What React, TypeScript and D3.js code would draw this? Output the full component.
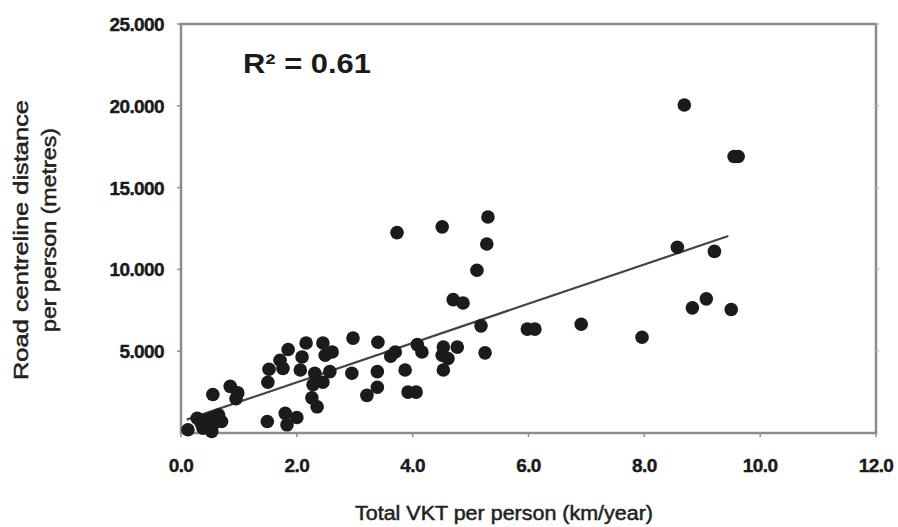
import React, { useEffect, useRef } from "react";
import * as d3 from "d3";

// values: VKT (km/year, thousands) vs road distance (metres)
const vktKm = [
  0.12, 0.28, 0.35, 0.45, 0.55, 0.65, 0.38, 0.53, 0.55, 0.7,
  0.55, 0.85, 0.98, 0.95, 1.49, 1.8, 2.0, 1.83,
  1.5, 1.52, 1.71, 1.76, 1.85, 2.09, 2.06, 2.16, 2.31, 2.28, 2.26, 2.35,
  2.45, 2.49, 2.61, 2.57, 2.45, 2.95, 2.97, 3.39, 3.4, 3.39, 3.21,
  3.7, 3.62, 3.87, 3.92, 4.06, 4.08, 4.16, 4.53, 4.77, 4.51, 4.61, 4.53,
  5.25, 5.18, 4.7, 4.87, 5.11, 5.28, 5.3, 4.51, 3.73,
  5.98, 6.11, 6.91, 7.96, 8.57, 9.21, 8.69, 9.55, 9.62, 8.83, 9.07, 9.5,
];
const roadMetres = [
  200, 900, 600, 800, 950, 1100, 300, 100, 500, 700,
  2350, 2850, 2450, 2100, 700, 1200, 950, 500,
  3100, 3900, 4450, 3950, 5100, 4650, 3850, 5500, 3650, 2950, 2150, 1600,
  5500, 4750, 4950, 3750, 3100, 3650, 5800, 3750, 5550, 2800, 2300,
  4950, 4700, 3850, 2500, 2500, 5400, 4950, 5250, 5250, 4750, 4550, 3850,
  4900, 6550, 8150, 7950, 9950, 11550, 13200, 12600, 12250,
  6350, 6350, 6650, 5850, 11350, 11100, 20050, 16900, 16900, 7650, 8200, 7550,
];

// fitted line as drawn
const trendSlope = 1200;
const trendIntercept = 700;
const trendRange = [0.1, 9.45];
const rSquared = "0.61";

const xTicks = [0, 2, 4, 6, 8, 10, 12];
const yTicks = [5000, 10000, 15000, 20000, 25000];

const W = 898, H = 527;
const left = 181, right = 876, top = 24, bottom = 433;
const font = "'Liberation Sans', Arial, sans-serif";

export default function App() {
  const ref = useRef<SVGSVGElement>(null);

  useEffect(() => {
    const svg = d3.select(ref.current);
    svg.selectAll("*").remove();

    const x = d3.scaleLinear().domain([0, 12]).range([left, right]);
    const y = d3.scaleLinear().domain([0, 25000]).range([bottom, top]);
    const frame = "#8c8c8c";

    // box
    svg.append("rect")
      .attr("x", left).attr("y", top)
      .attr("width", right - left).attr("height", bottom - top)
      .attr("fill", "none").attr("stroke", frame).attr("stroke-width", 2.5);

    // tick marks
    svg.append("g").selectAll("line").data(yTicks).join("line")
      .attr("x1", left - 4).attr("x2", left)
      .attr("y1", d => y(d)).attr("y2", d => y(d))
      .attr("stroke", frame).attr("stroke-width", 1.5);
    svg.append("g").selectAll("line").data(yTicks).join("line")
      .attr("x1", right).attr("x2", right + 3)
      .attr("y1", d => y(d)).attr("y2", d => y(d))
      .attr("stroke", "#bbb").attr("stroke-width", 1.5);
    svg.append("g").selectAll("line").data(xTicks).join("line")
      .attr("x1", d => x(d)).attr("x2", d => x(d))
      .attr("y1", bottom).attr("y2", bottom + 4)
      .attr("stroke", frame).attr("stroke-width", 1.5);

    // tick labels
    const fmtY = (v: number) => d3.format(",")(v).replace(/,/g, ".");
    svg.append("g").selectAll("text").data(yTicks).join("text")
      .attr("x", 164).attr("y", d => y(d) + 7)
      .attr("text-anchor", "end")
      .attr("font-family", font).attr("font-weight", "bold").attr("font-size", 19)
      .attr("letter-spacing", -0.6)
      .attr("fill", "#1a1a1a").attr("stroke", "#1a1a1a").attr("stroke-width", 0.4)
      .text(fmtY);
    svg.append("g").selectAll("text").data(xTicks).join("text")
      .attr("x", d => x(d)).attr("y", 472)
      .attr("text-anchor", "middle")
      .attr("font-family", font).attr("font-weight", "bold").attr("font-size", 19)
      .attr("letter-spacing", -0.6)
      .attr("fill", "#1a1a1a").attr("stroke", "#1a1a1a").attr("stroke-width", 0.4)
      .text(d => d3.format(".1f")(d));

    // trend line
    const line = d3.line<number>()
      .x(d => x(d))
      .y(d => y(trendIntercept + trendSlope * d));
    svg.append("path")
      .attr("d", line(trendRange))
      .attr("fill", "none").attr("stroke", "#444").attr("stroke-width", 2.2);

    // dots
    svg.append("g").selectAll("circle").data(vktKm).join("circle")
      .attr("cx", d => x(d))
      .attr("cy", (d, i) => y(roadMetres[i]))
      .attr("r", 6.8)
      .attr("fill", "#1b1b1b");

    // R² label
    svg.append("text")
      .attr("x", 243).attr("y", 73)
      .attr("font-family", font).attr("font-weight", "bold").attr("font-size", 28)
      .attr("textLength", 128).attr("lengthAdjust", "spacingAndGlyphs")
      .attr("fill", "#1a1a1a")
      .text(`R² = ${rSquared}`);

    // axis titles
    svg.append("text")
      .attr("x", 504).attr("y", 520)
      .attr("text-anchor", "middle")
      .attr("font-family", font).attr("font-size", 20)
      .attr("textLength", 298).attr("lengthAdjust", "spacingAndGlyphs")
      .attr("fill", "#222").attr("stroke", "#222").attr("stroke-width", 0.5)
      .text("Total VKT per person (km/year)");

    const yTitle = svg.append("g").attr("font-family", font).attr("font-size", 20)
      .attr("fill", "#222").attr("stroke", "#222").attr("stroke-width", 0.5)
      .attr("text-anchor", "middle");
    yTitle.append("text")
      .attr("transform", "translate(28,240) rotate(-90)")
      .attr("textLength", 280).attr("lengthAdjust", "spacingAndGlyphs")
      .text("Road centreline distance");
    yTitle.append("text")
      .attr("transform", "translate(56,230) rotate(-90)")
      .attr("textLength", 204).attr("lengthAdjust", "spacingAndGlyphs")
      .text("per person (metres)");
  }, []);

  return (
    <svg
      ref={ref}
      width={W}
      height={H}
      style={{ position: "absolute", left: 0, top: 0, background: "#fff" }}
    />
  );
}
